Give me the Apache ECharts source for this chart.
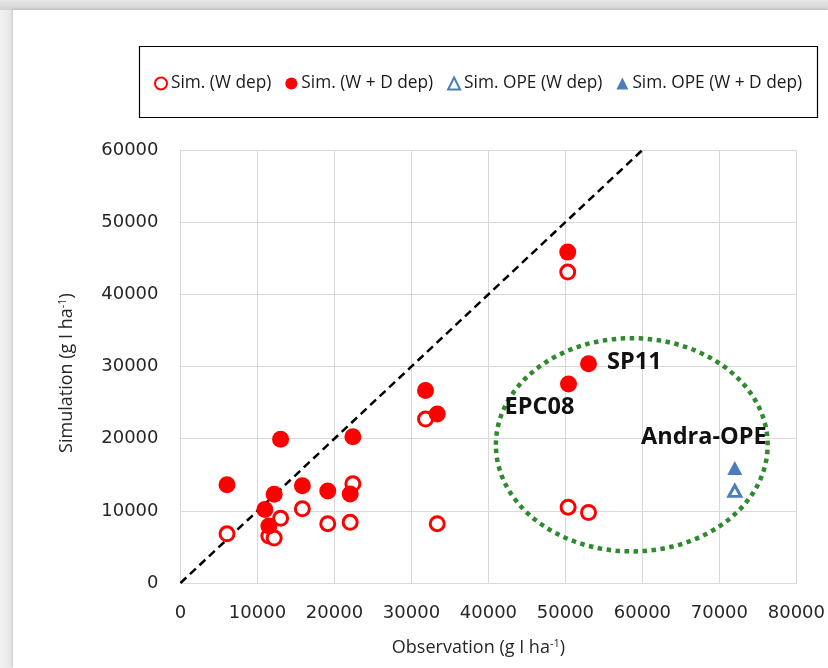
<!DOCTYPE html>
<html><head><meta charset="utf-8">
<script src="https://cdn.jsdelivr.net/npm/echarts@6/dist/echarts.min.js"></script>
<style>
html,body{margin:0;padding:0;width:828px;height:668px;overflow:hidden;background:linear-gradient(to right,#f2f2f2,#e4e4e4 13px,#e4e4e4);}
#top{position:absolute;left:0;top:0;width:828px;height:10px;background:linear-gradient(to bottom,#e8e8e8,#d2d2d2);}
#chart{position:absolute;left:13px;top:10px;width:815px;height:658px;background:#fff;box-shadow:-1px -1px 2px rgba(0,0,0,0.12);}
</style></head><body><div id="top"></div><div id="chart"></div>
<script>
// ---- data ----
const seriesNames = ['Sim. (W dep)', 'Sim. (W + D dep)', 'Sim. OPE (W dep)', 'Sim. OPE (W + D dep)'];
const obsW   = [6040, 11480, 12170, 13000, 15830, 19130, 22040, 22390, 31830, 33350, 50300, 50350, 53000];
const simW   = [6820, 6500, 6220, 8970, 10280, 8220, 8410, 13740, 22710, 8220, 43090, 10510, 9770];
const obsWD  = [6040, 10960, 11480, 12170, 13000, 15830, 19130, 22040, 22390, 31830, 33350, 50300, 50400, 53000];
const simWD  = [13600, 10190, 7900, 12290, 19910, 13460, 12760, 12340, 20280, 26680, 23410, 45850, 27560, 30370];
const labelsWD = ['', '', '', '', '', '', '', '', '', '', '', '', 'EPC08', 'SP11'];
const obsOPE_W = [72000], simOPE_W = [12770];
const obsOPE_WD = [72000], simOPE_WD = [15950];
const labelOPE = 'Andra-OPE';
const oneToOne = [[0, 0], [60000, 60000]];
const xRange = [0, 80000], yRange = [0, 60000], tickStep = 10000;
const ellipseCenter = [58620, 19150];   // data units
const ellipseRadii = [17650, 14770];    // data units

const RED = '#ff0000', BLUE = '#4a7ebb';
const zip = (xs, ys) => xs.map((x, i) => [x, ys[i]]);

const chart = echarts.init(document.getElementById('chart'), null, {renderer: 'canvas'});
const tickFont = {fontFamily: 'DejaVu Sans', fontSize: 18, color: '#262626', formatter: v => String(v)};
const titleRich = {
  a: {fontFamily: 'Open Sans', fontSize: 18, color: '#262626'},
  s: {fontFamily: 'Open Sans', fontSize: 11, color: '#262626', verticalAlign: 'top', padding: [0, 0, 8, 0]}
};

chart.setOption({
  animation: false,
  grid: {left: 167.5, top: 140, right: 26, bottom: 85, containLabel: false},
  legend: {
    data: seriesNames, left: 136, top: 60, itemWidth: 12, itemHeight: 12, itemGap: 14,
    textStyle: {fontFamily: 'Open Sans', fontSize: 17.3, color: '#1a1a1a', padding: [0, 0, 0, -1]}
  },
  xAxis: {
    type: 'value', min: xRange[0], max: xRange[1], interval: tickStep,
    axisLine: {show: true, lineStyle: {color: '#d9d9d9', width: 1}},
    axisTick: {show: false},
    splitLine: {show: true, lineStyle: {color: '#d9d9d9', width: 1}},
    axisLabel: Object.assign({margin: 21}, tickFont),
    name: '{a|Observation (g I ha}{s|-1}{a|)}', nameLocation: 'middle', nameGap: 55,
    nameTextStyle: {rich: titleRich, padding: [0, 20, 0, 0]}
  },
  yAxis: {
    type: 'value', min: yRange[0], max: yRange[1], interval: tickStep,
    axisLine: {show: true, lineStyle: {color: '#d9d9d9', width: 1}},
    axisTick: {show: false},
    splitLine: {show: true, lineStyle: {color: '#d9d9d9', width: 1}},
    axisLabel: Object.assign({margin: 22}, tickFont),
    name: '{a|Simulation (g I ha}{s|-1}{a|)}', nameLocation: 'middle', nameGap: 104,
    nameTextStyle: {rich: titleRich, padding: [0, 13, 0, 0]}
  },
  series: [
    {
      type: 'line', data: oneToOne, symbol: 'none', silent: true, z: 1,
      lineStyle: {color: '#000', width: 2.5, type: [8, 5]}
    },
    {
      name: seriesNames[0], type: 'scatter', data: zip(obsW, simW), symbol: 'circle', symbolSize: 14, z: 3,
      itemStyle: {color: '#fff', borderColor: RED, borderWidth: 3, opacity: 1}
    },
    {
      name: seriesNames[1], type: 'scatter', symbol: 'circle', symbolSize: 17, z: 4,
      data: obsWD.map((x, i) => ({value: [x, simWD[i]], name: labelsWD[i]})),
      itemStyle: {color: RED, opacity: 1},
      label: {show: false}
    },
    {
      name: seriesNames[2], type: 'scatter', data: zip(obsOPE_W, simOPE_W), symbol: 'triangle', symbolSize: [12, 11], z: 3,
      itemStyle: {color: '#fff', borderColor: BLUE, borderWidth: 3, opacity: 1}
    },
    {
      name: seriesNames[3], type: 'scatter', symbol: 'triangle', symbolSize: [15, 14], z: 4,
      data: obsOPE_WD.map((x, i) => ({value: [x, simOPE_WD[i]], name: labelOPE})),
      itemStyle: {color: BLUE, opacity: 1},
      label: {show: true, formatter: '{b}', position: 'inside', offset: [-31, -31],
        fontFamily: 'Open Sans', fontWeight: 'bold', fontSize: 23.5, color: '#111'}
    }
  ]
});

// labels on named W+D points
const labelSpec = {
  'EPC08': {position: 'inside', offset: [-29, 23]},
  'SP11': {position: 'right', distance: 10, offset: [0, -2]}
};
chart.setOption({
  series: [{}, {}, {
    data: obsWD.map((x, i) => {
      const item = {value: [x, simWD[i]], name: labelsWD[i]};
      if (labelSpec[labelsWD[i]]) {
        item.label = Object.assign({show: true, formatter: '{b}', fontFamily: 'Open Sans', fontWeight: 'bold', fontSize: 23.5, color: '#111'}, labelSpec[labelsWD[i]]);
      }
      return item;
    })
  }]
});

// legend frame + ellipse annotation
const c = chart.convertToPixel({gridIndex: 0}, ellipseCenter);
const e = chart.convertToPixel({gridIndex: 0}, [ellipseCenter[0] + ellipseRadii[0], ellipseCenter[1] + ellipseRadii[1]]);
chart.setOption({
  graphic: [
    {type: 'rect', left: 124, top: 34, shape: {width: 678, height: 71}, silent: true,
     style: {fill: 'none', stroke: '#000', lineWidth: 1.2}},
    {type: 'ellipse', shape: {cx: c[0], cy: c[1], rx: Math.abs(e[0] - c[0]), ry: Math.abs(c[1] - e[1])}, silent: true, z: 2,
     style: {fill: 'none', stroke: '#2f8a2f', lineWidth: 4.5, lineDash: [4.5, 4.5]}}
  ]
});
</script>
</body></html>
